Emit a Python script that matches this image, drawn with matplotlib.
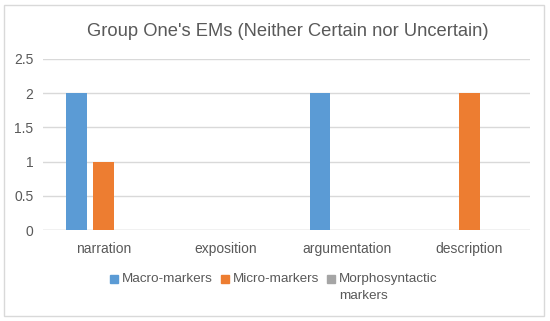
import matplotlib.pyplot as plt
import numpy as np
from matplotlib.patches import Rectangle

plt.rcParams['font.family'] = ['Liberation Sans', 'DejaVu Sans']

categories = ['narration', 'exposition', 'argumentation', 'description']
macro = [2, 0, 2, 0]
micro = [1, 0, 0, 2]
morpho = [0, 0, 0, 0]
series_names = ['Macro-markers', 'Micro-markers', 'Morphosyntactic\nmarkers']
title = "Group One's EMs (Neither Certain nor Uncertain)"

text_col = '#595959'
colors = ['#5B9BD5', '#ED7D31', '#A5A5A5']

W, H = 550, 321
fig = plt.figure(figsize=(5.5, 3.21), dpi=100)
ax = fig.add_axes([43 / W, 1 - 230 / H, (530 - 43) / W, (230 - 59) / H])

x = np.arange(len(categories))
w = 0.172
off = 0.225
for i, vals in enumerate([macro, micro, morpho]):
    ax.bar(x + (i - 1) * off, vals, w, color=colors[i], zorder=3)

ax.set_xlim(-0.5, 3.5)
ax.set_ylim(0, 2.5)
ax.set_yticks([0, 0.5, 1, 1.5, 2, 2.5])
ax.set_yticklabels(['0', '0.5', '1', '1.5', '2', '2.5'])
ax.set_xticks(x)
ax.set_xticklabels(categories)
ax.tick_params(length=0, labelsize=10, colors=text_col)
ax.tick_params(axis='x', pad=8.5)
ax.tick_params(axis='y', pad=7)
ax.grid(axis='y', color='#D9D9D9', lw=1, zorder=0)
for s in ax.spines.values():
    s.set_visible(False)
ax.axhline(0, color='#D9D9D9', lw=1, zorder=2)

fig.text(288 / W, 1 - 32 / H, title, ha='center', va='center', fontsize=13.2, color=text_col)

# legend drawn by hand so the grey square sits on the first line of its label
leg_x = [110, 221, 327]
leg_y = 1 - 279 / H
sq = 8
for xi, name, c in zip(leg_x, series_names, colors):
    fig.patches.append(Rectangle((xi / W, leg_y - sq / 2 / H), sq / W, sq / H,
                                 transform=fig.transFigure, color=c))
    lines = name.split('\n')
    for j, ln in enumerate(lines):
        fig.text((xi + sq + 4) / W, leg_y - j * 17 / H, ln, ha='left', va='center',
                 fontsize=9.7, color=text_col)

fig.patches.append(Rectangle((4 / W, 5 / H), 540 / W, 311 / H, transform=fig.transFigure,
                             fill=False, edgecolor='#D9D9D9', lw=1))

fig.savefig('out.png', dpi=100)
